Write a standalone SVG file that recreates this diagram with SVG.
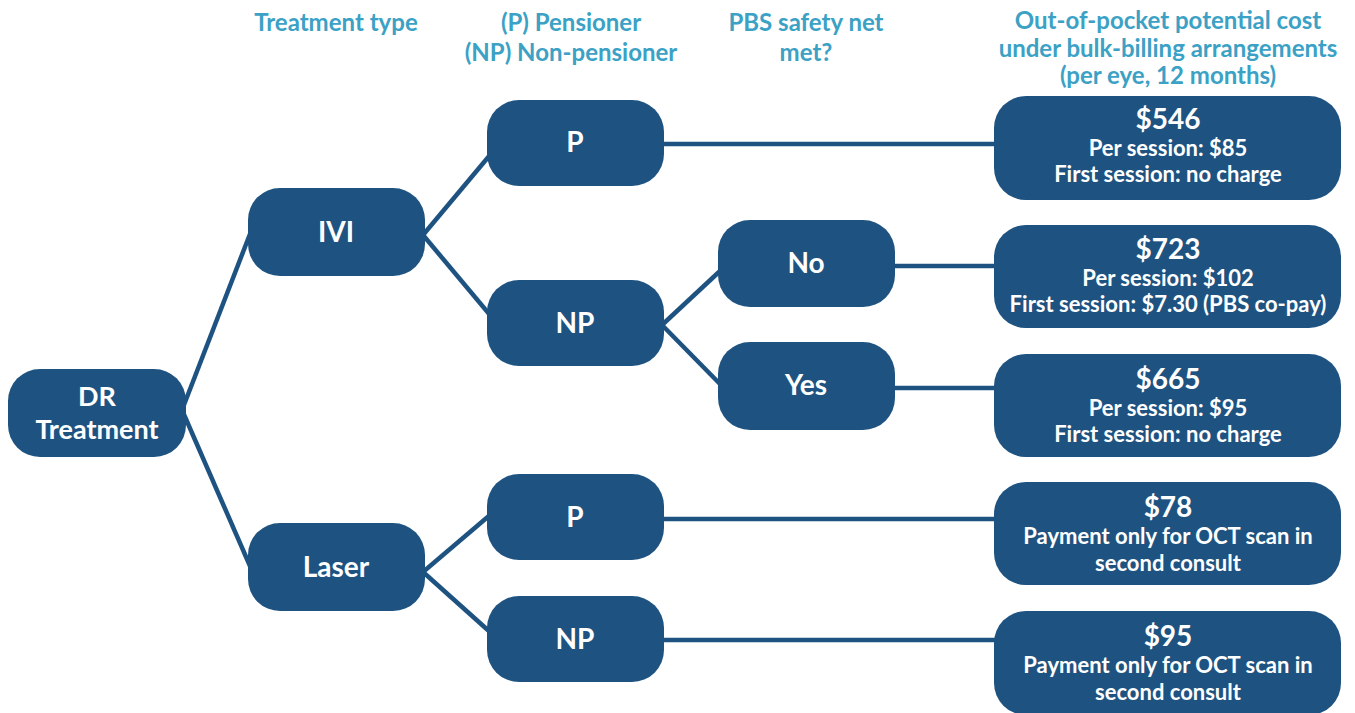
<svg xmlns="http://www.w3.org/2000/svg" width="1355" height="713" viewBox="0 0 1355 713">
<style>
.n{fill:#1E5381;}
.h{font-family:Lato,"Open Sans",sans-serif;font-weight:bold;font-size:24px;fill:#3BA1C5;text-anchor:middle;}
.t{font-family:Lato,"Open Sans",sans-serif;font-weight:bold;fill:#FFFFFF;text-anchor:middle;}
.big{font-size:28px;}
.dr{font-size:27px;}
.sm{font-size:22px;}
.c{stroke:#1E5381;stroke-width:4.5;fill:none;stroke-linecap:butt;}
</style>
<rect width="1355" height="713" fill="#FFFFFF"/>
<g id="headers">
<text class="h" x="336" y="31">Treatment type</text>
<text class="h" x="571" y="31">(P) Pensioner</text>
<text class="h" x="571" y="61">(NP) Non-pensioner</text>
<text class="h" x="806" y="31">PBS safety net</text>
<text class="h" x="806" y="61">met?</text>
<text class="h" x="1168" y="29">Out-of-pocket potential cost</text>
<text class="h" x="1168" y="57">under bulk-billing arrangements</text>
<text class="h" x="1168" y="84">(per eye, 12 months)</text>
</g>
<g id="connectors">
<line class="c" x1="182" y1="410" x2="250" y2="234"/>
<line class="c" x1="182" y1="410" x2="250" y2="566"/>
<line class="c" x1="423" y1="235" x2="490" y2="155"/>
<line class="c" x1="423" y1="235" x2="490" y2="315"/>
<line class="c" x1="662" y1="325" x2="720" y2="271"/>
<line class="c" x1="662" y1="325" x2="720" y2="384"/>
<line class="c" x1="423" y1="572" x2="490" y2="515"/>
<line class="c" x1="423" y1="572" x2="490" y2="632"/>
<line class="c" x1="662" y1="144" x2="996" y2="144"/>
<line class="c" x1="893" y1="266" x2="996" y2="266"/>
<line class="c" x1="893" y1="388" x2="996" y2="388"/>
<line class="c" x1="662" y1="519" x2="996" y2="519"/>
<line class="c" x1="662" y1="640" x2="996" y2="640"/>
</g>
<g id="dr">
<rect class="n" x="8" y="369" width="178" height="88" rx="32"/>
<text class="t dr" x="97" y="406">DR</text>
<text class="t dr" x="97" y="439">Treatment</text>
</g>
<g id="ivi">
<rect class="n" x="248" y="188" width="177" height="88" rx="32"/>
<text class="t big" x="336" y="242">IVI</text>
</g>
<g id="laser">
<rect class="n" x="248" y="523" width="177" height="88" rx="32"/>
<text class="t big" x="336" y="577">Laser</text>
</g>
<g id="ivi-p">
<rect class="n" x="487" y="100" width="177" height="86" rx="32"/>
<text class="t big" x="575" y="152">P</text>
</g>
<g id="ivi-np">
<rect class="n" x="487" y="280" width="177" height="86" rx="32"/>
<text class="t big" x="575" y="333">NP</text>
</g>
<g id="laser-p">
<rect class="n" x="487" y="474" width="177" height="86" rx="32"/>
<text class="t big" x="575" y="527">P</text>
</g>
<g id="laser-np">
<rect class="n" x="487" y="596" width="177" height="86" rx="32"/>
<text class="t big" x="575" y="649">NP</text>
</g>
<g id="no">
<rect class="n" x="718" y="220" width="177" height="87" rx="32"/>
<text class="t big" x="806" y="273">No</text>
</g>
<g id="yes">
<rect class="n" x="718" y="342" width="177" height="88" rx="32"/>
<text class="t big" x="806" y="395">Yes</text>
</g>
<g id="r546">
<rect class="n" x="994" y="96" width="347" height="104" rx="32"/>
<text class="t big" x="1168" y="129">$546</text>
<text class="t sm" x="1168" y="156">Per session: $85</text>
<text class="t sm" x="1168" y="182">First session: no charge</text>
</g>
<g id="r723">
<rect class="n" x="994" y="225" width="347" height="103" rx="32"/>
<text class="t big" x="1168" y="259">$723</text>
<text class="t sm" x="1168" y="286">Per session: $102</text>
<text class="t sm" x="1168" y="312">First session: $7.30 (PBS co-pay)</text>
</g>
<g id="r665">
<rect class="n" x="994" y="354" width="347" height="103" rx="32"/>
<text class="t big" x="1168" y="389">$665</text>
<text class="t sm" x="1168" y="416">Per session: $95</text>
<text class="t sm" x="1168" y="442">First session: no charge</text>
</g>
<g id="r78">
<rect class="n" x="994" y="482" width="347" height="103" rx="32"/>
<text class="t big" x="1168" y="517">$78</text>
<text class="t sm" x="1168" y="544">Payment only for OCT scan in</text>
<text class="t sm" x="1168" y="571">second consult</text>
</g>
<g id="r95">
<rect class="n" x="994" y="611" width="347" height="104" rx="32"/>
<text class="t big" x="1168" y="646">$95</text>
<text class="t sm" x="1168" y="673">Payment only for OCT scan in</text>
<text class="t sm" x="1168" y="700">second consult</text>
</g>
</svg>
